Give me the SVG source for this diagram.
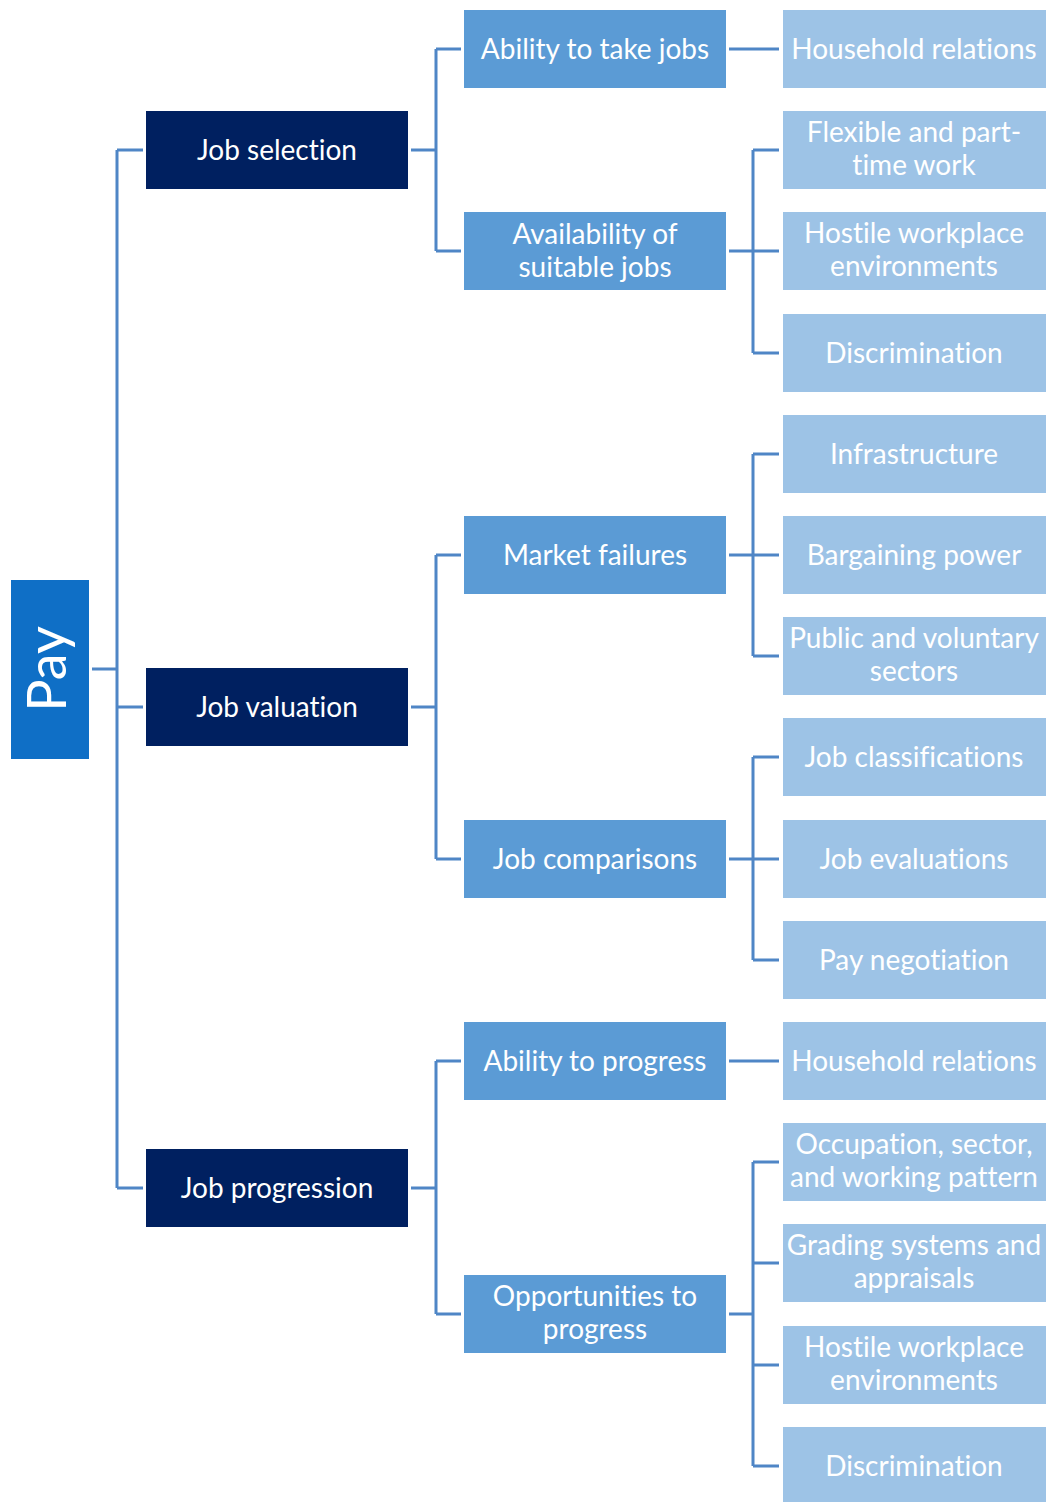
<svg xmlns="http://www.w3.org/2000/svg" width="1046" height="1502" viewBox="0 0 1046 1502">
  <style>
    text { font-family: Lato, "Open Sans", "Liberation Sans", sans-serif; fill: #ffffff; text-anchor: middle; font-size: 28px; font-variant-ligatures: none; }
    .root { fill: #0F6FC6; }
    .l1 { fill: #002060; }
    .l2 { fill: #5B9BD5; }
    .l3 { fill: #9DC3E6; }
    .pay { font-size: 54px; }
    #connectors path { fill: none; stroke: #4F86C6; stroke-width: 3; }
  </style>

  <!-- connector tree -->
  <g id="connectors">
    <!-- root to level 1 -->
    <path d="M92 669 H117 M117 150 V1188 M117 150 H143 M117 707 H143 M117 1188 H143"/>
    <!-- Job selection -->
    <path d="M411 150 H436 M436 49 V251 M436 49 H461 M436 251 H461"/>
    <!-- Job valuation -->
    <path d="M411 707 H436 M436 555 V859 M436 555 H461 M436 859 H461"/>
    <!-- Job progression -->
    <path d="M411 1188 H436 M436 1061 V1314 M436 1061 H461 M436 1314 H461"/>
    <!-- level 2 to level 3 -->
    <path d="M729 49 H779"/>
    <path d="M729 251 H753 M753 150 V353 M753 150 H779 M753 251 H779 M753 353 H779"/>
    <path d="M729 555 H753 M753 454 V656 M753 454 H779 M753 555 H779 M753 656 H779"/>
    <path d="M729 859 H753 M753 757 V960 M753 757 H779 M753 859 H779 M753 960 H779"/>
    <path d="M729 1061 H779"/>
    <path d="M729 1314 H753 M753 1162 V1466 M753 1162 H779 M753 1263 H779 M753 1365 H779 M753 1466 H779"/>
  </g>

  <!-- root -->
  <g id="pay">
    <rect class="root" x="11" y="580" width="78" height="179"/>
    <text class="pay" transform="translate(66 669) rotate(-90)">Pay</text>
  </g>

  <!-- level 1 -->
  <g id="job-selection">
    <rect class="l1" x="146" y="111" width="262" height="78"/>
    <text x="277" y="160">Job selection</text>
  </g>
  <g id="job-valuation">
    <rect class="l1" x="146" y="668" width="262" height="78"/>
    <text x="277" y="717">Job valuation</text>
  </g>
  <g id="job-progression">
    <rect class="l1" x="146" y="1149" width="262" height="78"/>
    <text x="277" y="1198">Job progression</text>
  </g>

  <!-- level 2 -->
  <g id="ability-to-take-jobs">
    <rect class="l2" x="464" y="10" width="262" height="78"/>
    <text x="595" y="59">Ability to take jobs</text>
  </g>
  <g id="availability-of-suitable-jobs">
    <rect class="l2" x="464" y="212" width="262" height="78"/>
    <text x="595" y="244">Availability of</text>
    <text x="595" y="277">suitable jobs</text>
  </g>
  <g id="market-failures">
    <rect class="l2" x="464" y="516" width="262" height="78"/>
    <text x="595" y="565">Market failures</text>
  </g>
  <g id="job-comparisons">
    <rect class="l2" x="464" y="820" width="262" height="78"/>
    <text x="595" y="869">Job comparisons</text>
  </g>
  <g id="ability-to-progress">
    <rect class="l2" x="464" y="1022" width="262" height="78"/>
    <text x="595" y="1071">Ability to progress</text>
  </g>
  <g id="opportunities-to-progress">
    <rect class="l2" x="464" y="1275" width="262" height="78"/>
    <text x="595" y="1306">Opportunities to</text>
    <text x="595" y="1339">progress</text>
  </g>

  <!-- level 3 -->
  <g id="household-relations-1">
    <rect class="l3" x="783" y="10" width="263" height="78"/>
    <text x="914" y="59">Household relations</text>
  </g>
  <g id="flexible-work">
    <rect class="l3" x="783" y="111" width="263" height="78"/>
    <text x="914" y="142">Flexible and part-</text>
    <text x="914" y="175">time work</text>
  </g>
  <g id="hostile-workplace-1">
    <rect class="l3" x="783" y="212" width="263" height="78"/>
    <text x="914" y="243">Hostile workplace</text>
    <text x="914" y="276">environments</text>
  </g>
  <g id="discrimination-1">
    <rect class="l3" x="783" y="314" width="263" height="78"/>
    <text x="914" y="363">Discrimination</text>
  </g>
  <g id="infrastructure">
    <rect class="l3" x="783" y="415" width="263" height="78"/>
    <text x="914" y="464">Infrastructure</text>
  </g>
  <g id="bargaining-power">
    <rect class="l3" x="783" y="516" width="263" height="78"/>
    <text x="914" y="565">Bargaining power</text>
  </g>
  <g id="public-voluntary">
    <rect class="l3" x="783" y="617" width="263" height="78"/>
    <text x="914" y="648">Public and voluntary</text>
    <text x="914" y="681">sectors</text>
  </g>
  <g id="job-classifications">
    <rect class="l3" x="783" y="718" width="263" height="78"/>
    <text x="914" y="767">Job classifications</text>
  </g>
  <g id="job-evaluations">
    <rect class="l3" x="783" y="820" width="263" height="78"/>
    <text x="914" y="869">Job evaluations</text>
  </g>
  <g id="pay-negotiation">
    <rect class="l3" x="783" y="921" width="263" height="78"/>
    <text x="914" y="970">Pay negotiation</text>
  </g>
  <g id="household-relations-2">
    <rect class="l3" x="783" y="1022" width="263" height="78"/>
    <text x="914" y="1071">Household relations</text>
  </g>
  <g id="occupation-sector">
    <rect class="l3" x="783" y="1123" width="263" height="78"/>
    <text x="914" y="1154">Occupation, sector,</text>
    <text x="914" y="1187">and working pattern</text>
  </g>
  <g id="grading-systems">
    <rect class="l3" x="783" y="1224" width="263" height="78"/>
    <text x="914" y="1255">Grading systems and</text>
    <text x="914" y="1288">appraisals</text>
  </g>
  <g id="hostile-workplace-2">
    <rect class="l3" x="783" y="1326" width="263" height="78"/>
    <text x="914" y="1357">Hostile workplace</text>
    <text x="914" y="1390">environments</text>
  </g>
  <g id="discrimination-2">
    <rect class="l3" x="783" y="1427" width="263" height="78"/>
    <text x="914" y="1476">Discrimination</text>
  </g>
</svg>
